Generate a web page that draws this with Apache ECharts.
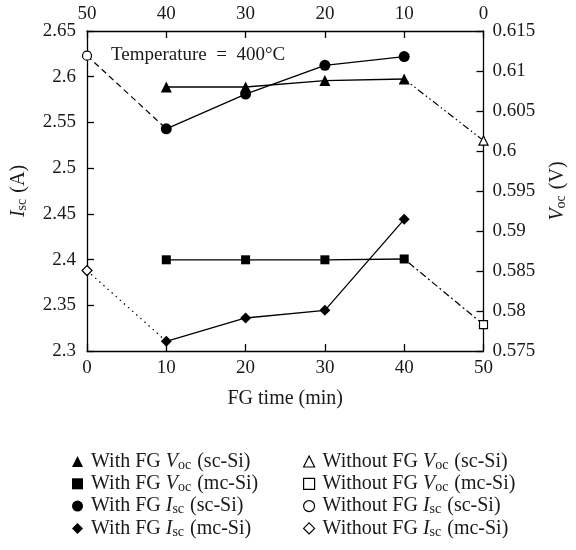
<!DOCTYPE html>
<html>
<head>
<meta charset="utf-8">
<script src="https://cdn.jsdelivr.net/npm/echarts@6/dist/echarts.min.js"></script>
<style>
  html, body { margin: 0; padding: 0; background: #fff; }
  #chart { width: 576px; height: 550px; }
</style>
</head>
<body>
<div id="chart"></div>
<script>
// FG treatment time (min) for the treated samples
const fgTime = [10, 20, 30, 40];
// Untreated reference time (min)
const refTime = 0;

// Open-circuit voltage (V), plotted against the top time axis
const vocScWith = [0.6090, 0.6088, 0.6080, 0.6080];
const vocMcWith = [0.5865, 0.5864, 0.5864, 0.5864];
const vocScWithout = 0.6013;
const vocMcWithout = 0.5783;

// Short-circuit current (A), plotted against the bottom time axis
const iscScWith = [2.543, 2.581, 2.6125, 2.622];
const iscMcWith = [2.3106, 2.3361, 2.3445, 2.444];
const iscScWithout = 2.623;
const iscMcWithout = 2.388;

// Axis ticks
const timeTicks = [0, 10, 20, 30, 40, 50];
const iscTicks = [2.3, 2.35, 2.4, 2.45, 2.5, 2.55, 2.6, 2.65];
const vocTicks = [0.575, 0.58, 0.585, 0.59, 0.595, 0.6, 0.605, 0.61, 0.615];

const FONT = '"Liberation Serif", "DejaVu Serif", serif';
const INK = '#1a1a1a';
const FS = 19;   // tick labels and annotation
const FT = 20;   // axis names and legend

const chart = echarts.init(document.getElementById('chart'), null, { renderer: 'canvas' });

const pairs = (xs, ys) => xs.map((x, i) => [x, ys[i]]);

// Reference point plus the first treated point, so the connecting segment is drawn
const refLine = (refY, firstY) => [
  { value: [refTime, refY] },
  { value: [fgTime[0], firstY], symbol: 'none' }
];

const filled = { color: '#000', borderWidth: 0 };
const hollow = { color: '#fff', borderColor: '#000', borderWidth: 1.2 };

const names = {
  a: 'With FG Voc (sc-Si)',
  b: 'With FG Voc (mc-Si)',
  c: 'With FG Isc (sc-Si)',
  d: 'With FG Isc (mc-Si)',
  e: 'Without FG Voc (sc-Si)',
  f: 'Without FG Voc (mc-Si)',
  g: 'Without FG Isc (sc-Si)',
  h: 'Without FG Isc (mc-Si)'
};

// "Voc" / "Isc" → italic symbol with a subscript
function richName(name) {
  const m = name.match(/^(.*?)(V|I)(oc|sc)(.*)$/);
  return '{n|' + m[1] + '}{i|' + m[2] + '}{s|' + m[3] + '}{n|' + m[4] + '}';
}

const richStyles = {
  n: { fontFamily: FONT, fontSize: FT, color: INK, lineHeight: 22 },
  i: { fontFamily: FONT, fontSize: FT, color: INK, fontStyle: 'italic', lineHeight: 22 },
  s: { fontFamily: FONT, fontSize: 14, color: INK, lineHeight: 22, padding: [7, 1, 0, 0] }
};

const baseLine = (name, data, opts) => Object.assign({
  name: name,
  type: 'line',
  data: data,
  symbolSize: 10,
  lineStyle: { color: '#000', width: 1.3 },
  itemStyle: filled,
  animation: false,
  z: 3
}, opts);

const legendBase = {
  orient: 'vertical',
  itemWidth: 11,
  itemHeight: 11,
  itemGap: 1.3,
  formatter: richName,
  textStyle: { rich: richStyles, padding: [0, 0, 0, 3] },
  selectedMode: false
};

const axisLineStyle = { onZero: false, lineStyle: { color: '#000', width: 1.3 } };
const axisTickStyle = { inside: true, length: 7, lineStyle: { color: '#000', width: 1.3 } };
const tickFormat = v => String(+v.toFixed(3));

const option = {
  backgroundColor: '#fff',
  title: {
    text: 'Temperature\u2002=\u2002400°C',
    left: 106,
    top: 41,
    textStyle: { fontFamily: FONT, fontSize: FS, fontWeight: 'normal', color: INK }
  },
  grid: { left: 87, right: 83, top: 31, bottom: 199 },
  legend: [
    Object.assign({}, legendBase, {
      left: 67, top: 446,
      data: [
        { name: names.a, icon: 'triangle', itemStyle: filled },
        { name: names.b, icon: 'rect', itemStyle: filled },
        { name: names.c, icon: 'circle', itemStyle: filled },
        { name: names.d, icon: 'diamond', itemStyle: filled }
      ]
    }),
    Object.assign({}, legendBase, {
      left: 298, top: 446,
      data: [
        { name: names.e, icon: 'triangle', itemStyle: hollow },
        { name: names.f, icon: 'rect', itemStyle: hollow },
        { name: names.g, icon: 'circle', itemStyle: hollow },
        { name: names.h, icon: 'diamond', itemStyle: hollow }
      ]
    })
  ],
  xAxis: [
    {
      type: 'value',
      position: 'bottom',
      min: timeTicks[0],
      max: timeTicks[timeTicks.length - 1],
      interval: 10,
      name: 'FG time (min)',
      nameLocation: 'middle',
      nameGap: 38,
      nameTextStyle: { fontFamily: FONT, fontSize: FT, color: INK },
      axisLine: axisLineStyle,
      axisTick: axisTickStyle,
      axisLabel: { margin: 8, fontFamily: FONT, fontSize: FS, color: INK },
      splitLine: { show: false }
    },
    {
      type: 'value',
      position: 'top',
      inverse: true,
      min: timeTicks[0],
      max: timeTicks[timeTicks.length - 1],
      interval: 10,
      axisLine: axisLineStyle,
      axisTick: axisTickStyle,
      axisLabel: { margin: 7, fontFamily: FONT, fontSize: FS, color: INK },
      splitLine: { show: false }
    }
  ],
  yAxis: [
    {
      type: 'value',
      position: 'left',
      min: iscTicks[0],
      max: iscTicks[iscTicks.length - 1],
      interval: 0.05,
      name: '{i|I}{s|sc}{n| (A)}',
      nameLocation: 'middle',
      nameGap: 57,
      nameTextStyle: { rich: richStyles },
      axisLine: axisLineStyle,
      axisTick: axisTickStyle,
      axisLabel: { margin: 11, fontFamily: FONT, fontSize: FS, color: INK, formatter: tickFormat },
      splitLine: { show: false }
    },
    {
      type: 'value',
      position: 'right',
      min: vocTicks[0],
      max: vocTicks[vocTicks.length - 1],
      interval: 0.005,
      name: '{i|V}{s|oc}{n| (V)}',
      nameLocation: 'middle',
      nameGap: 63,
      nameTextStyle: { rich: richStyles },
      axisLine: axisLineStyle,
      axisTick: axisTickStyle,
      axisLabel: { margin: 9, fontFamily: FONT, fontSize: FS, color: INK, formatter: tickFormat },
      splitLine: { show: false }
    }
  ],
  series: [
    baseLine(names.a, pairs(fgTime, vocScWith), { xAxisIndex: 1, yAxisIndex: 1, symbol: 'triangle', symbolSize: 11 }),
    baseLine(names.b, pairs(fgTime, vocMcWith), { xAxisIndex: 1, yAxisIndex: 1, symbol: 'rect', symbolSize: 9 }),
    baseLine(names.c, pairs(fgTime, iscScWith), { xAxisIndex: 0, yAxisIndex: 0, symbol: 'circle', symbolSize: 11 }),
    baseLine(names.d, pairs(fgTime, iscMcWith), { xAxisIndex: 0, yAxisIndex: 0, symbol: 'diamond', symbolSize: 11 }),
    baseLine(names.e, refLine(vocScWithout, vocScWith[0]), {
      xAxisIndex: 1, yAxisIndex: 1, symbol: 'triangle', symbolSize: 9, itemStyle: hollow,
      lineStyle: { color: '#000', width: 1.2, type: [7, 3, 1.5, 3, 1.5, 3] }, z: 2
    }),
    baseLine(names.f, refLine(vocMcWithout, vocMcWith[0]), {
      xAxisIndex: 1, yAxisIndex: 1, symbol: 'rect', symbolSize: 8, itemStyle: hollow,
      lineStyle: { color: '#000', width: 1.2, type: [7, 3, 2, 3] }, z: 2
    }),
    baseLine(names.g, refLine(iscScWithout, iscScWith[0]), {
      xAxisIndex: 0, yAxisIndex: 0, symbol: 'circle', symbolSize: 9, itemStyle: hollow,
      lineStyle: { color: '#000', width: 1.2, type: [6, 4] }, z: 2
    }),
    baseLine(names.h, refLine(iscMcWithout, iscMcWith[0]), {
      xAxisIndex: 0, yAxisIndex: 0, symbol: 'diamond', symbolSize: 10, itemStyle: hollow,
      lineStyle: { color: '#000', width: 1.2, type: [1.5, 4] }, z: 2
    })
  ]
};

chart.setOption(option);
</script>
</body>
</html>
